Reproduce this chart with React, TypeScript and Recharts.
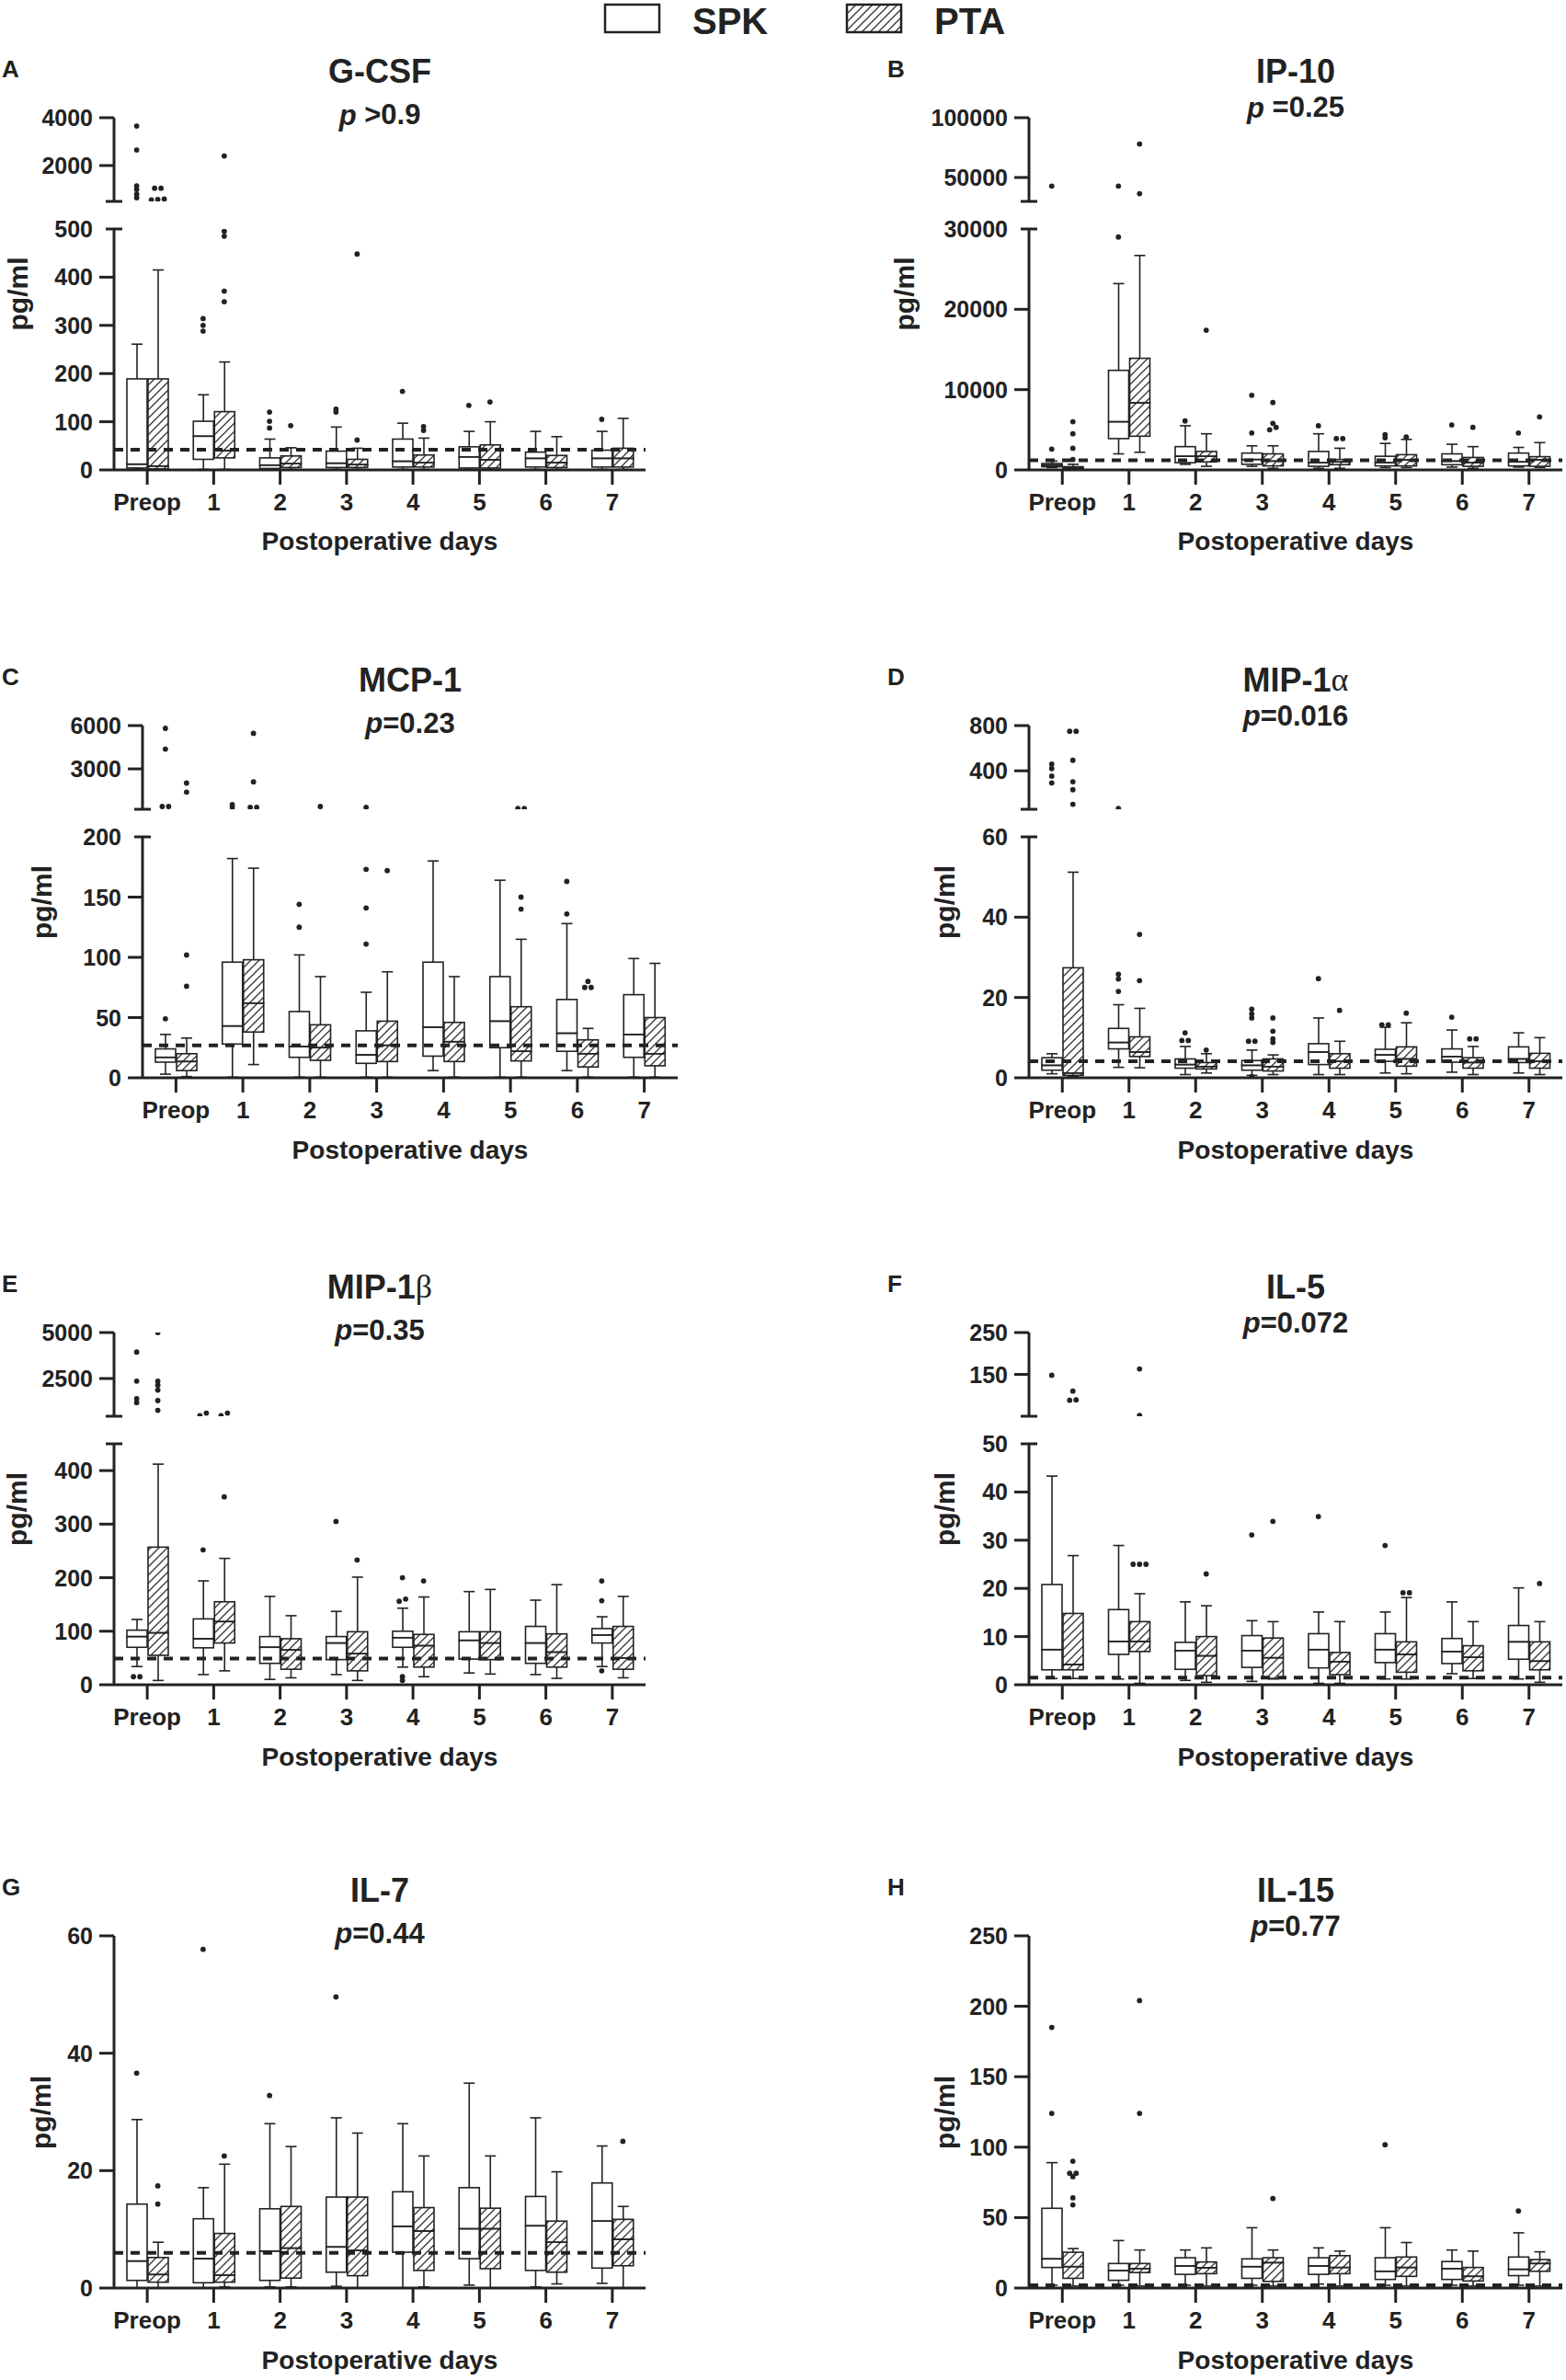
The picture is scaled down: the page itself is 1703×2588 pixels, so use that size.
import React from 'react';
import { ComposedChart, Bar, Scatter, XAxis, YAxis, ReferenceLine } from 'recharts';

// min, q1, median, q3, max
type Stat = [number, number, number, number, number];

const DAYS = ['Preop', '1', '2', '3', '4', '5', '6', '7'];

// A  G-CSF
const GCSF_SPK: Stat[] = [[2, 4, 12, 189, 261], [1, 22, 70, 101, 156], [1, 3, 10, 25, 64], [1, 5, 14, 39, 89], [1, 6, 18, 64, 97], [1, 4, 27, 48, 80], [1, 6, 24, 37, 80], [1, 6, 24, 41, 80]];
const GCSF_PTA: Stat[] = [[1, 2, 8, 189, 415], [1, 25, 40, 121, 224], [1, 5, 13, 29, 46], [1, 5, 11, 22, 45], [1, 6, 15, 31, 66], [1, 4, 21, 52, 100], [1, 5, 15, 30, 69], [1, 6, 24, 45, 107]];
const GCSF_SPK_OUT = [[3650, 2650, 1150, 1000, 800, 650], [314, 300, 288], [120, 101, 87], [120, 126], [163], [134], [], [105]];
const GCSF_PTA_OUT = [[1050, 1050, 600, 580, 560], [2400, 495, 485, 371, 349], [92], [448, 62], [90, 82], [141], [], []];
const GCSF_REF = 42;

// B  IP-10
const IP10_SPK: Stat[] = [[300, 400, 600, 800, 1100], [2000, 3900, 6000, 12400, 23200], [700, 900, 1700, 2900, 5500], [450, 700, 1300, 2100, 3000], [200, 450, 900, 2300, 4500], [300, 500, 900, 1700, 3300], [350, 650, 1100, 2000, 3200], [350, 500, 1000, 2100, 2800]];
const IP10_PTA: Stat[] = [[50, 100, 250, 400, 700], [2200, 4200, 8350, 13900, 26700], [450, 1000, 1700, 2300, 4500], [200, 500, 1100, 2000, 3000], [200, 650, 1000, 1300, 2700], [300, 500, 1250, 1900, 3800], [200, 450, 900, 1550, 2900], [300, 450, 1250, 1650, 3400]];
const IP10_SPK_OUT = [[42800, 2600], [42800, 29000], [6100], [9300, 4600], [5500], [4400, 4000], [5600], [4600]];
const IP10_PTA_OUT = [[6000, 4500, 2700, 1300], [78000, 36500], [17400], [8400, 5800, 5300, 5000], [3900, 3900], [4100], [5300], [6600]];
const IP10_REF = 1200;

// C  MCP-1
const MCP1_SPK: Stat[] = [[3, 13, 17, 24, 36], [0.5, 28, 43, 96, 182], [0.5, 17, 26, 55, 102], [0.5, 12, 19, 39, 71], [6, 18, 42, 96, 180], [0.5, 25, 47, 84, 164], [6, 22, 37, 65, 128], [0.5, 17, 36, 69, 99]];
const MCP1_PTA: Stat[] = [[1, 6, 13.5, 20, 33], [11, 38, 62, 98, 174], [0.5, 14.5, 25, 44, 84], [0.5, 13.5, 27, 47, 88], [0.5, 13.5, 30, 46, 84], [0.5, 14, 22, 59, 115], [0.5, 9, 20, 31.5, 41], [0.5, 10, 20, 50, 95]];
const MCP1_SPK_OUT = [[49, 390, 390, 4370, 5810], [335, 530], [144, 125], [111, 141, 173, 335], [], [], [136, 163], []];
const MCP1_PTA_OUT = [[76, 102, 2016, 1392], [2100, 5460, 335, 335], [390], [172], [], [140, 150, 250, 250], [80, 75, 75], []];
const MCP1_REF = 27;

// D  MIP-1alpha
const MIP1A_SPK: Stat[] = [[1, 1.9, 3.1, 5, 6], [2.6, 7.2, 8.8, 12.3, 18.2], [0.8, 2.4, 3.3, 4.7, 7.8], [0.6, 1.9, 3.1, 4.3, 6.9], [0.8, 3.3, 6.4, 8.5, 14.9], [1.2, 4.1, 5.7, 7.1, 12.6], [1.4, 3.9, 5.3, 7.2, 11.9], [1.2, 3.8, 4.7, 7.7, 11.2]];
const MIP1A_PTA: Stat[] = [[0.3, 0.6, 1.2, 27.4, 51.2], [2.5, 5.3, 6.4, 10.2, 17.3], [1.2, 2.2, 2.8, 3.8, 6], [0.8, 1.7, 2.8, 4.7, 5.7], [0.8, 2.4, 4.1, 6, 9.1], [1, 2.9, 4.7, 7.7, 13.7], [0.8, 2.4, 3.8, 5, 7.8], [0.8, 2.4, 4.1, 6.1, 10]];
const MIP1A_SPK_OUT = [[460, 420, 353, 293], [21.5, 24.6, 25.8, 67], [9.3, 9.3, 11.2], [9.1, 9.1, 14.9, 15.9, 17.1, 0.3], [24.7], [13.2, 13.2], [15.1], []];
const MIP1A_PTA_OUT = [[750, 750, 493, 303, 233, 104], [24.2, 35.7], [6.9], [8.8, 9.7, 11.6, 14.9], [16.8], [16.1], [9.7, 9.7], []];
const MIP1A_REF = 4.1;

// E  MIP-1beta
const MIP1B_SPK: Stat[] = [[34, 70, 90, 102, 122], [19, 69, 86, 123, 194], [10, 40, 70, 90, 165], [19, 47, 78, 90, 137], [33, 70, 88, 100, 143], [22, 48, 83, 99, 174], [19, 40, 78, 109, 158], [34, 78, 93, 105, 127]];
const MIP1B_PTA: Stat[] = [[8, 55, 97, 257, 412], [26, 78, 118, 155, 236], [13, 29, 65, 86, 129], [8, 26, 58, 99, 201], [15, 33, 73, 94, 164], [20, 47, 78, 99, 178], [12, 33, 61, 95, 187], [13, 29, 50, 109, 165]];
const MIP1B_SPK_OUT = [[15, 15, 3940, 2360, 1400, 1190], [252, 620, 480], [], [305], [160, 156, 200, 8, 15], [], [], [26, 157, 194]];
const MIP1B_PTA_OUT = [[5000, 2360, 2140, 1870, 1300, 770], [351, 620, 480], [], [233], [194], [], [], []];
const MIP1B_REF = 49;

// F  IL-5
const IL5_SPK: Stat[] = [[1.3, 3.1, 7.3, 20.8, 43.3], [1.2, 6.3, 9, 15.6, 28.9], [0.9, 3.2, 7.1, 8.8, 17.2], [0.7, 3.6, 7.1, 10.2, 13.3], [0.3, 3.5, 7.3, 10.6, 15.1], [1.2, 4.6, 7.3, 10.6, 15.1], [2.3, 4.4, 6.9, 9.6, 17.2], [1.2, 5.3, 8.9, 12.3, 20.1]];
const IL5_PTA: Stat[] = [[1.3, 3.1, 4.2, 14.8, 26.8], [0.3, 6.9, 9, 13.1, 18.9], [0.5, 1.9, 6, 10, 16.4], [1.2, 1.3, 5.6, 9.7, 13.1], [0.3, 2.1, 4.8, 6.7, 13.1], [1.2, 2.6, 6.3, 8.9, 18.1], [1.3, 2.9, 5.7, 8.1, 13.1], [0.5, 3.1, 4.9, 8.9, 13.1]];
const IL5_SPK_OUT = [[148], [], [], [31.1], [34.9], [28.9], [], []];
const IL5_PTA_OUT = [[110, 88, 89], [25, 25, 25, 163, 52], [23], [33.9], [], [19.1, 19.1], [], [21]];
const IL5_REF = 1.5;

// G  IL-7
const IL7_SPK: Stat[] = [[0, 1.3, 4.6, 14.3, 28.7], [0, 0.9, 5, 11.8, 17.1], [0.2, 1.3, 6.3, 13.5, 28], [0.3, 2.7, 7, 15.5, 29], [0, 6.1, 10.5, 16.4, 28], [0.5, 5, 10.1, 17.1, 34.9], [0.2, 3, 10.6, 15.6, 29], [0.8, 3.4, 11.4, 17.9, 24.2]];
const IL7_PTA: Stat[] = [[0, 1, 2.3, 5.2, 7.8], [0.2, 1, 2.2, 9.3, 21.1], [0.2, 1.7, 6.8, 13.9, 24.1], [0, 2.1, 6.4, 15.5, 26.4], [0.2, 3, 9.7, 13.7, 22.5], [0, 3.3, 10.1, 13.6, 22.5], [0.7, 2.7, 7.8, 11.4, 19.8], [0, 3.8, 8.3, 11.7, 13.9]];
const IL7_SPK_OUT = [[36.6], [57.7], [32.8], [49.6], [], [], [], []];
const IL7_PTA_OUT = [[14.3, 17.4], [22.5], [], [], [], [], [], [25]];
const IL7_REF = 6;

// H  IL-15
const IL15_SPK: Stat[] = [[2, 14.6, 20.7, 56.6, 89], [2, 5.5, 12.4, 17.4, 33.7], [2, 9.7, 15.7, 21.5, 27], [2, 6.9, 15.2, 20.7, 42.8], [2.8, 9.7, 15.7, 21.5, 28.5], [2, 6.1, 11.9, 21.5, 42.8], [2, 6.1, 13.8, 18.8, 27], [2, 8.8, 13.3, 22, 39.2]];
const IL15_PTA: Stat[] = [[1.4, 6.9, 15.2, 25.4, 28], [1.4, 11, 13.8, 17.4, 27], [1.4, 10.2, 14.4, 18.5, 28.5], [1.4, 4.7, 18, 21.5, 27], [1.4, 10.2, 14.6, 23, 26.2], [1.4, 8.3, 14.6, 22, 32.3], [1.4, 5, 8.3, 14.6, 26.2], [1.4, 11.9, 17.4, 20.2, 25.7]];
const IL15_SPK_OUT = [[124, 185], [], [], [], [], [101.7], [], [54.7]];
const IL15_PTA_OUT = [[59, 64, 79, 81.5, 81.5, 90], [124, 204], [], [63.5], [], [], [], []];
const IL15_REF = 2;

const INK = '#222';
const FONT = '"Liberation Sans", Arial, Helvetica, sans-serif';
const BOX_W = 22;
const BOX_GAP = 1;
const CAP_W = 12;
const YW = 120;
const MT = 24;
const MR = 8;
const MB = 8;
const XH = 60;

// y of the zero line in each row, and the segment heights above it
const ROW_ZERO = [510.5, 1172, 1832, 2488];
const TOP_H = 383;
const UP_H = 91;
const LOW_H = 262;

interface PanelDef {
  letter: string;
  title: string;
  greek?: string;
  p: string;
  spk: Stat[];
  pta: Stat[];
  spkOut: number[][];
  ptaOut: number[][];
  ref: number;
  lower: number[];
  lowerNoLabel?: number[];
  upper?: number[];
  col: number;
  row: number;
  left: number;
  right: number;
  ylabX: number;
}

const PANELS: PanelDef[] = [
  { letter: 'A', title: 'G-CSF', p: ' >0.9', spk: GCSF_SPK, pta: GCSF_PTA, spkOut: GCSF_SPK_OUT, ptaOut: GCSF_PTA_OUT, ref: GCSF_REF, lower: [0, 100, 200, 300, 400, 500], upper: [500, 2000, 4000], col: 0, row: 0, left: 124, right: 702, ylabX: 19 },
  { letter: 'B', title: 'IP-10', p: ' =0.25', spk: IP10_SPK, pta: IP10_PTA, spkOut: IP10_SPK_OUT, ptaOut: IP10_PTA_OUT, ref: IP10_REF, lower: [0, 10000, 20000, 30000], upper: [30000, 50000, 100000], col: 1, row: 0, left: 1119, right: 1699, ylabX: 983 },
  { letter: 'C', title: 'MCP-1', p: '=0.23', spk: MCP1_SPK, pta: MCP1_PTA, spkOut: MCP1_SPK_OUT, ptaOut: MCP1_PTA_OUT, ref: MCP1_REF, lower: [0, 50, 100, 150, 200], upper: [200, 3000, 6000], col: 0, row: 1, left: 155, right: 737, ylabX: 45 },
  { letter: 'D', title: 'MIP-1', greek: 'α', p: '=0.016', spk: MIP1A_SPK, pta: MIP1A_PTA, spkOut: MIP1A_SPK_OUT, ptaOut: MIP1A_PTA_OUT, ref: MIP1A_REF, lower: [0, 20, 40, 60], upper: [60, 400, 800], col: 1, row: 1, left: 1119, right: 1699, ylabX: 1027 },
  { letter: 'E', title: 'MIP-1', greek: 'β', p: '=0.35', spk: MIP1B_SPK, pta: MIP1B_PTA, spkOut: MIP1B_SPK_OUT, ptaOut: MIP1B_PTA_OUT, ref: MIP1B_REF, lower: [0, 100, 200, 300, 400, 450], lowerNoLabel: [450], upper: [450, 2500, 5000], col: 0, row: 2, left: 124, right: 702, ylabX: 18 },
  { letter: 'F', title: 'IL-5', p: '=0.072', spk: IL5_SPK, pta: IL5_PTA, spkOut: IL5_SPK_OUT, ptaOut: IL5_PTA_OUT, ref: IL5_REF, lower: [0, 10, 20, 30, 40, 50], upper: [50, 150, 250], col: 1, row: 2, left: 1119, right: 1699, ylabX: 1027 },
  { letter: 'G', title: 'IL-7', p: '=0.44', spk: IL7_SPK, pta: IL7_PTA, spkOut: IL7_SPK_OUT, ptaOut: IL7_PTA_OUT, ref: IL7_REF, lower: [0, 20, 40, 60], col: 0, row: 3, left: 124, right: 702, ylabX: 44 },
  { letter: 'H', title: 'IL-15', p: '=0.77', spk: IL15_SPK, pta: IL15_PTA, spkOut: IL15_SPK_OUT, ptaOut: IL15_PTA_OUT, ref: IL15_REF, lower: [0, 50, 100, 150, 200, 250], col: 1, row: 3, left: 1119, right: 1699, ylabX: 1027 },
];

interface Pt { x: number; y: number; s: number; k: number; n: number }

// outliers of one series inside [lo, hi]; near-equal values sit side by side
function buildPoints(out: number[][], s: number, lo: number, hi: number, pxPerUnit: number): Pt[] {
  const pts: Pt[] = [];
  out.forEach((vals, i) => {
    const vs = vals.filter((v) => v >= lo && v <= hi).sort((a, b) => a - b);
    let group: number[] = [];
    const flush = () => {
      group.forEach((v, k) => pts.push({ x: i, y: v, s, k, n: group.length }));
      group = [];
    };
    vs.forEach((v) => {
      if (group.length && (v - group[0]) * pxPerUnit > 3) flush();
      group.push(v);
    });
    flush();
  });
  return pts;
}

function boxRows(spk: Stat[], pta: Stat[]) {
  return DAYS.map((day, i) => {
    const a = spk[i];
    const b = pta[i];
    return {
      day,
      sBase: a[0], sLo: a[1] - a[0], sB1: a[2] - a[1], sB2: a[3] - a[2], sHi: a[4] - a[3],
      pBase: b[0], pLo: b[1] - b[0], pB1: b[2] - b[1], pB2: b[3] - b[2], pHi: b[4] - b[3],
    };
  });
}

const noShape = () => <g />;

const boxShape = (fill: string) => (p: any) => {
  const { x, y, width, height } = p;
  if (width == null || height == null) return <g />;
  return <rect x={x} y={y} width={width} height={Math.max(height, 0)} fill={fill} stroke={INK} strokeWidth={1.6} />;
};

const whiskerShape = (capTop: boolean) => (p: any) => {
  const { x, y, width, height } = p;
  if (width == null || height == null) return <g />;
  const cx = x + width / 2;
  const cy = capTop ? y : y + height;
  return (
    <g>
      <line x1={cx} x2={cx} y1={y} y2={y + height} stroke={INK} strokeWidth={1.6} />
      <line x1={cx - CAP_W / 2} x2={cx + CAP_W / 2} y1={cy} y2={cy} stroke={INK} strokeWidth={1.6} />
    </g>
  );
};

const Dot = (p: any) => {
  const { cx, cy, payload } = p;
  if (cx == null || cy == null) return <g />;
  const side = payload.s === 0 ? -1 : 1;
  const dx = side * (BOX_W + BOX_GAP) / 2 + (payload.k - (payload.n - 1) / 2) * 7;
  return <circle cx={cx + dx} cy={cy} r={2.9} fill={INK} />;
};

const XTick = (p: any) => (
  <g>
    <line x1={p.x} x2={p.x} y1={p.y} y2={p.y + 16} stroke={INK} strokeWidth={3} />
    <text x={p.x} y={p.y + 35} textAnchor="middle" dominantBaseline="central" fontFamily={FONT} fontWeight="bold" fontSize={26} fill={INK}>
      {p.payload.value}
    </text>
  </g>
);

const makeYTick = (caps: number[], noLabel: number[]) => (p: any) => {
  const v = p.payload.value;
  const cap = caps.includes(v);
  return (
    <g>
      <line x1={cap ? p.x - 9 : p.x - 16} x2={cap ? p.x + 9 : p.x} y1={p.y} y2={p.y} stroke={INK} strokeWidth={3} />
      {!noLabel.includes(v) && (
        <text x={p.x - 23} y={p.y} textAnchor="end" dominantBaseline="central" fontFamily={FONT} fontWeight="bold" fontSize={25} fill={INK}>
          {String(v)}
        </text>
      )}
    </g>
  );
};

interface SegProps {
  left: number;
  plotW: number;
  top: number;
  plotH: number;
  domain: [number, number];
  ticks: number[];
  caps: number[];
  noLabel: number[];
  pts: Pt[];
  rows?: ReturnType<typeof boxRows>;
  refY?: number;
}

function Segment({ left, plotW, top, plotH, domain, ticks, caps, noLabel, pts, rows, refY }: SegProps) {
  const withX = !!rows;
  const axisLine = { stroke: INK, strokeWidth: 3 };
  return (
    <div style={{ position: 'absolute', left: left - YW, top: top - MT }}>
      <ComposedChart
        width={YW + plotW + MR}
        height={MT + plotH + (withX ? XH : MB)}
        data={rows}
        margin={{ top: MT, right: MR, bottom: withX ? 0 : MB, left: 0 }}
        barSize={BOX_W}
        barGap={BOX_GAP}
      >
        {withX && (
          <XAxis dataKey="day" type="category" height={XH} interval={0} tickSize={0} tickMargin={0}
            tickLine={false} axisLine={axisLine} tick={XTick} />
        )}
        <XAxis xAxisId="n" type="number" dataKey="x" domain={[-0.5, 7.5]} allowDataOverflow hide />
        <YAxis type="number" domain={domain} ticks={ticks} allowDataOverflow width={YW} interval={0}
          tickSize={0} tickMargin={0} tickLine={false} axisLine={axisLine} tick={makeYTick(caps, noLabel)} />
        {withX && <Bar dataKey="sBase" stackId="spk" shape={noShape} isAnimationActive={false} />}
        {withX && <Bar dataKey="sLo" stackId="spk" shape={whiskerShape(false)} isAnimationActive={false} />}
        {withX && <Bar dataKey="sB1" stackId="spk" shape={boxShape('none')} isAnimationActive={false} />}
        {withX && <Bar dataKey="sB2" stackId="spk" shape={boxShape('none')} isAnimationActive={false} />}
        {withX && <Bar dataKey="sHi" stackId="spk" shape={whiskerShape(true)} isAnimationActive={false} />}
        {withX && <Bar dataKey="pBase" stackId="pta" shape={noShape} isAnimationActive={false} />}
        {withX && <Bar dataKey="pLo" stackId="pta" shape={whiskerShape(false)} isAnimationActive={false} />}
        {withX && <Bar dataKey="pB1" stackId="pta" shape={boxShape('url(#hatch)')} isAnimationActive={false} />}
        {withX && <Bar dataKey="pB2" stackId="pta" shape={boxShape('url(#hatch)')} isAnimationActive={false} />}
        {withX && <Bar dataKey="pHi" stackId="pta" shape={whiskerShape(true)} isAnimationActive={false} />}
        {refY != null && <ReferenceLine y={refY} stroke={INK} strokeWidth={4} strokeDasharray="10 8" />}
        <Scatter xAxisId="n" data={pts} dataKey="y" shape={Dot} isAnimationActive={false} />
      </ComposedChart>
    </div>
  );
}

function Panel({ d }: { d: PanelDef }) {
  const zero = ROW_ZERO[d.row];
  const plotW = d.right - d.left;
  const rows = boxRows(d.spk, d.pta);
  const lowTop = d.lower[d.lower.length - 1];
  if (!d.upper) {
    const ppu = TOP_H / lowTop;
    const pts = [...buildPoints(d.spkOut, 0, 0, lowTop, ppu), ...buildPoints(d.ptaOut, 1, 0, lowTop, ppu)];
    return (
      <Segment left={d.left} plotW={plotW} top={zero - TOP_H} plotH={TOP_H} domain={[0, lowTop]} ticks={d.lower}
        caps={[]} noLabel={d.lowerNoLabel ?? []} pts={pts} rows={rows} refY={d.ref} />
    );
  }
  const up = d.upper;
  const upLo = up[0];
  const upHi = up[up.length - 1];
  const upPpu = UP_H / (upHi - upLo);
  const lowPpu = LOW_H / lowTop;
  const upPts = [...buildPoints(d.spkOut, 0, lowTop + 1e-9, upHi, upPpu), ...buildPoints(d.ptaOut, 1, lowTop + 1e-9, upHi, upPpu)];
  const lowPts = [...buildPoints(d.spkOut, 0, 0, lowTop, lowPpu), ...buildPoints(d.ptaOut, 1, 0, lowTop, lowPpu)];
  return (
    <>
      <Segment left={d.left} plotW={plotW} top={zero - TOP_H} plotH={UP_H} domain={[upLo, upHi]} ticks={up}
        caps={[upLo]} noLabel={[upLo]} pts={upPts} />
      <Segment left={d.left} plotW={plotW} top={zero - LOW_H} plotH={LOW_H} domain={[0, lowTop]} ticks={d.lower}
        caps={[lowTop]} noLabel={d.lowerNoLabel ?? []} pts={lowPts} rows={rows} refY={d.ref} />
    </>
  );
}

function PanelText({ d }: { d: PanelDef }) {
  const zero = ROW_ZERO[d.row];
  const cx = (d.left + d.right) / 2;
  const bold = { fontFamily: FONT, fontWeight: 'bold' as const, fill: INK };
  return (
    <g>
      <text x={d.col === 0 ? 2 : 965} y={zero - 436} dominantBaseline="central" fontSize={26} {...bold}>{d.letter}</text>
      <text x={cx} y={zero - 433} textAnchor="middle" dominantBaseline="central" fontSize={36} {...bold}>
        {d.title}
        {d.greek && <tspan fontFamily='"Liberation Serif", "DejaVu Serif", serif' fontWeight="normal">{d.greek}</tspan>}
      </text>
      <text x={cx} y={zero - (d.col === 0 ? 386 : 394)} textAnchor="middle" dominantBaseline="central" fontSize={31} {...bold}>
        <tspan fontStyle="italic">p</tspan>
        {d.p}
      </text>
      <text x={d.ylabX} y={zero - 191} textAnchor="middle" dominantBaseline="central" fontSize={30} {...bold}
        transform={`rotate(-90 ${d.ylabX} ${zero - 191})`}>pg/ml</text>
      <text x={cx} y={zero + 78} textAnchor="middle" dominantBaseline="central" fontSize={28} {...bold}>Postoperative days</text>
    </g>
  );
}

export default function App() {
  return (
    <div style={{ position: 'absolute', left: 0, top: 0, width: 1703, height: 2588, background: '#fff', overflow: 'hidden' }}>
      {PANELS.map((d) => <Panel key={d.letter} d={d} />)}
      <svg width={1703} height={2588} style={{ position: 'absolute', left: 0, top: 0, pointerEvents: 'none' }}>
        <defs>
          <pattern id="hatch" patternUnits="userSpaceOnUse" width={9} height={9}>
            <path d="M0,9 L9,0 M-2.25,2.25 L2.25,-2.25 M6.75,11.25 L11.25,6.75" stroke="#333" strokeWidth={1.3} />
          </pattern>
        </defs>
        <rect x={658} y={5} width={59} height={30} fill="#fff" stroke={INK} strokeWidth={2.5} />
        <text x={753} y={37} fontFamily={FONT} fontWeight="bold" fontSize={40} fill={INK}>SPK</text>
        <rect x={921} y={5} width={59} height={30} fill="url(#hatch)" stroke={INK} strokeWidth={2.5} />
        <text x={1016} y={37} fontFamily={FONT} fontWeight="bold" fontSize={40} fill={INK}>PTA</text>
        {PANELS.map((d) => <PanelText key={d.letter} d={d} />)}
      </svg>
    </div>
  );
}
